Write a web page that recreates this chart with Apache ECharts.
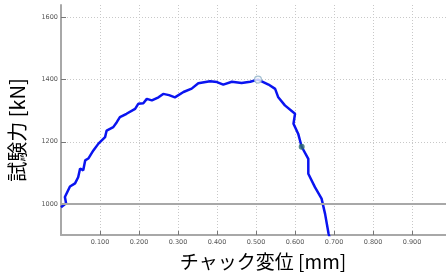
<!DOCTYPE html>
<html><head><meta charset="utf-8">
<script src="https://cdn.jsdelivr.net/npm/echarts@6/dist/echarts.min.js"></script>
<style>html,body{margin:0;padding:0;background:#fff}#c{width:446px;height:279px}</style>
</head><body><div id="c"></div>
<script>
var displacement = [0.000,0.013,0.010,0.023,0.036,0.044,0.049,0.057,0.062,0.070,0.083,0.096,0.113,0.117,0.134,0.143,0.151,0.168,0.190,0.198,0.211,0.220,0.233,0.250,0.262,0.277,0.292,0.297,0.314,0.335,0.352,0.382,0.400,0.416,0.438,0.463,0.485,0.505,0.532,0.549,0.557,0.574,0.600,0.596,0.608,0.617,0.634,0.634,0.651,0.668,0.677,0.686,0.689];
var force = [989,1002,1022,1056,1066,1086,1114,1108,1140,1146,1172,1194,1215,1236,1247,1263,1279,1290,1306,1322,1324,1338,1333,1343,1354,1350,1343,1338,1360,1371,1388,1395,1392,1384,1393,1389,1393,1400,1384,1370,1343,1317,1290,1258,1226,1184,1145,1097,1054,1017,968,904,890];
var peakPoint = [0.505, 1400];
var markPoint2 = [0.617, 1184];
var yTicks = [1000, 1200, 1400, 1600];
var refLine = 1000;
var xTitle = 'チャック変位 [mm]';
var yTitle = '試験力 [kN]';

var chart = echarts.init(document.getElementById('c'), null, {renderer:'canvas'});
var pts = displacement.map(function(v,i){return [v, force[i]];});
var gridLine = {show:true, lineStyle:{color:'#c8c8c8', width:1, type:[1,2]}};
chart.setOption({
  animation:false,
  grid:{left:61, right:0, top:5, bottom:44},
  xAxis:{type:'value', min:0, max:0.987, interval:0.1,
    axisLine:{lineStyle:{color:'#a8a8a8', width:2}},
    axisTick:{inside:true, length:4, lineStyle:{color:'#777'}},
    axisLabel:{showMinLabel:false, showMaxLabel:false, fontSize:6.5, color:'#555', margin:4, fontFamily:'DejaVu Sans',
      formatter:function(v){return v.toFixed(3);}},
    splitLine:gridLine},
  yAxis:{type:'value', min:900, max:1640,
    axisLine:{show:true, lineStyle:{color:'#a8a8a8', width:2}},
    axisTick:{show:true, inside:true, length:5, customValues:yTicks, lineStyle:{color:'#777'}},
    axisLabel:{customValues:yTicks, fontSize:6.5, color:'#555', margin:3, fontFamily:'DejaVu Sans',
      formatter:function(v){return String(v);}},
    splitLine:gridLine},
  graphic:[
    {type:'text', x:263, y:262, style:{text:xTitle, align:'center', verticalAlign:'middle', font:'19px "Noto Sans CJK JP"', fill:'#000'}},
    {type:'text', x:17, y:130, rotation:Math.PI/2, style:{text:yTitle, align:'center', verticalAlign:'middle', font:'20px "Noto Sans CJK JP"', fill:'#000'}}
  ],
  series:[
    {type:'line', data:pts, showSymbol:false, smooth:false,
      lineStyle:{color:'#0a14f0', width:2.5},
      markLine:{silent:true, symbol:'none', label:{show:false},
        lineStyle:{color:'#a8a8a8', width:2, type:'solid'}, data:[{yAxis:refLine}]}},
    {type:'scatter', data:[peakPoint], symbolSize:7,
      itemStyle:{color:'#f4f8fb', borderColor:'#8fb2c8', borderWidth:1.2}, z:5},
    {type:'scatter', data:[markPoint2], symbolSize:6,
      itemStyle:{color:'#2e6a6a'}, z:5}
  ]
});
</script></body></html>
